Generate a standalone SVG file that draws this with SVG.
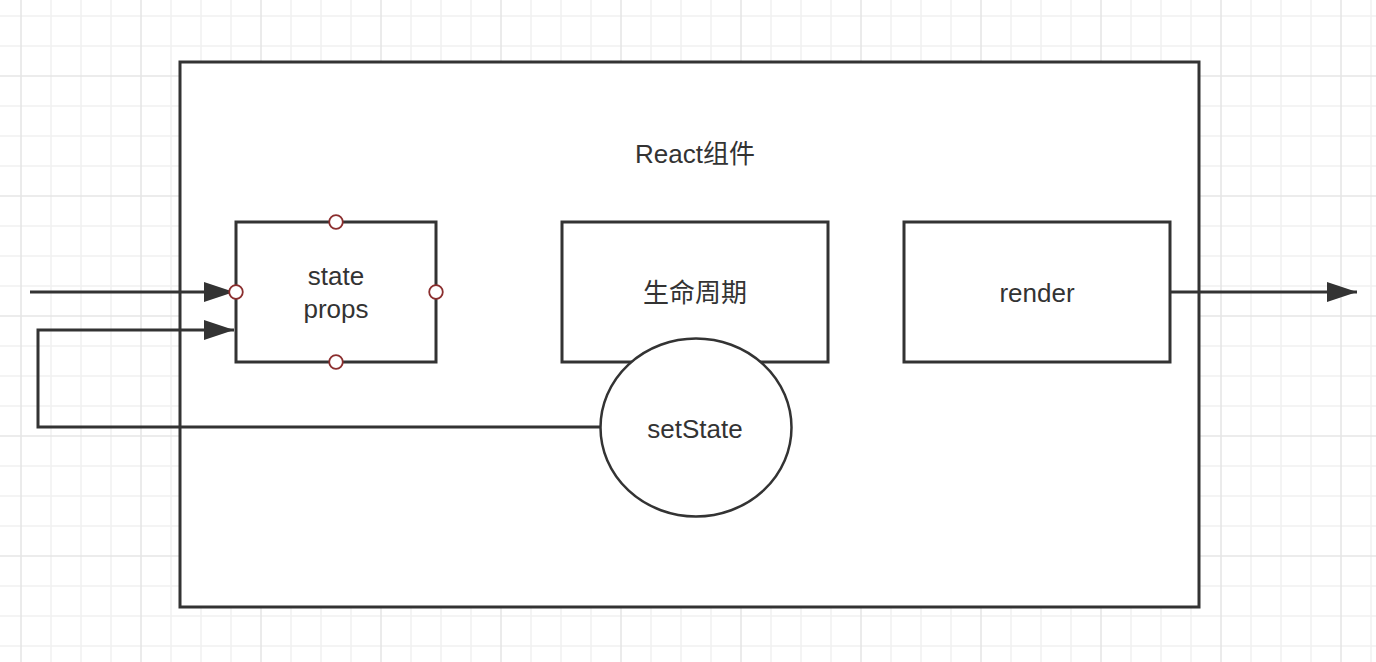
<svg xmlns="http://www.w3.org/2000/svg" width="1376" height="662" viewBox="0 0 1376 662">
  <style>
    .box { fill: #ffffff; stroke: #333333; stroke-width: 3; }
    .lbl { font-family: "Liberation Sans", "Noto Sans CJK SC", sans-serif; font-size: 26px; fill: #333333; text-anchor: middle; }
    .conn { fill: none; stroke: #333333; stroke-width: 3; }
    .pt { fill: #ffffff; stroke: #8b2e2e; stroke-width: 1.8; }
    .minor { stroke: #f1f1f1; stroke-width: 1.6; }
    .major { stroke: #e6e6e6; stroke-width: 1.6; }
  </style>
  <defs>
    <pattern id="grid" patternUnits="userSpaceOnUse" x="6" y="61" width="120" height="120">
      <line class="minor" x1="45" y1="0" x2="45" y2="120"/>
      <line class="minor" x1="75" y1="0" x2="75" y2="120"/>
      <line class="minor" x1="105" y1="0" x2="105" y2="120"/>
      <line class="minor" x1="0" y1="45" x2="120" y2="45"/>
      <line class="minor" x1="0" y1="75" x2="120" y2="75"/>
      <line class="minor" x1="0" y1="105" x2="120" y2="105"/>
      <line class="major" x1="15" y1="0" x2="15" y2="120"/>
      <line class="major" x1="0" y1="15" x2="120" y2="15"/>
    </pattern>
    <marker id="arrow" markerUnits="userSpaceOnUse" markerWidth="32" markerHeight="22" refX="30" refY="10" orient="auto">
      <path d="M0,0 L30,10 L0,20 Z" fill="#333333"/>
    </marker>
  </defs>

  <rect x="0" y="0" width="1376" height="662" fill="#ffffff"/>
  <rect x="0" y="0" width="1376" height="662" fill="url(#grid)"/>

  <g id="react-component">
    <rect class="box" x="180" y="62" width="1019" height="545"/>
    <text class="lbl" x="695" y="163">React组件</text>
  </g>

  <g id="connectors">
    <line class="conn" x1="30" y1="292" x2="234" y2="292" marker-end="url(#arrow)"/>
    <polyline class="conn" points="600,427 38,427 38,330 234,330" marker-end="url(#arrow)"/>
    <line class="conn" x1="1170" y1="292" x2="1357" y2="292" marker-end="url(#arrow)"/>
  </g>

  <g id="state-props">
    <rect class="box" x="236" y="222" width="200" height="140"/>
    <text class="lbl" x="336" y="285">state</text>
    <text class="lbl" x="336" y="318">props</text>
    <circle class="pt" cx="336" cy="222" r="6.8"/>
    <circle class="pt" cx="336" cy="362" r="6.8"/>
    <circle class="pt" cx="236" cy="292" r="6.8"/>
    <circle class="pt" cx="436" cy="292" r="6.8"/>
  </g>

  <g id="lifecycle">
    <rect class="box" x="562" y="222" width="266" height="140"/>
    <text class="lbl" x="695" y="302">生命周期</text>
  </g>

  <g id="render">
    <rect class="box" x="904" y="222" width="266" height="140"/>
    <text class="lbl" x="1037" y="302">render</text>
  </g>

  <g id="setState">
    <ellipse cx="696" cy="427.5" rx="95.5" ry="89" fill="#ffffff" stroke="#333333" stroke-width="2.5"/>
    <text class="lbl" x="695" y="438">setState</text>
  </g>
</svg>
